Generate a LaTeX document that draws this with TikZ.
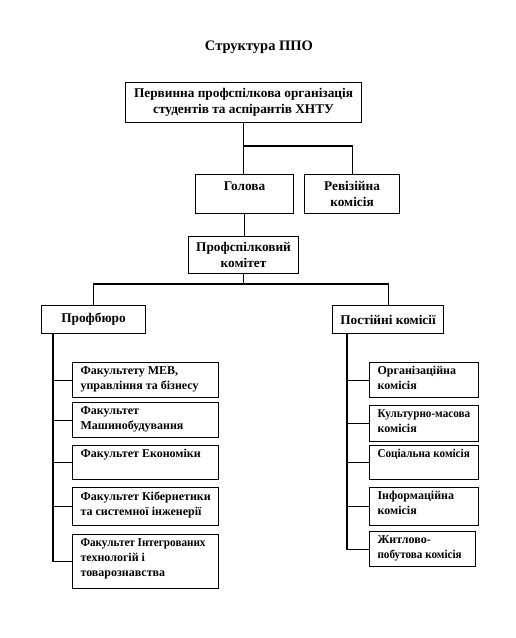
\documentclass[tikz,border=0pt]{standalone}
\usepackage{fontspec}
\setmainfont{Liberation Serif}
\newfontfamily\narrowf[FakeStretch=0.93]{Liberation Serif}
\newcommand\bxt[3]{\parbox[t][#1][t]{#2}{\raggedright #3}}
\newcommand\bxc[3]{\parbox[t][#1][t]{#2}{\centering #3}}
\hbadness=10000 \hfuzz=50pt
\begin{document}
\begin{tikzpicture}[x=1pt,y=-1pt,
  bx/.style={draw, line width=1.1pt, anchor=north west, inner sep=0pt,
    font=\bfseries\fontsize{13.3}{15.5}\selectfont},
  tb/.style={draw, line width=1.1pt, anchor=north west, inner xsep=8pt, inner ysep=4pt,
    font=\bfseries\fontsize{12}{15}\selectfont},
  ln/.style={line width=1.1pt}]
\useasboundingbox (0,0) rectangle (515,638);
\node[font=\bfseries\fontsize{14.5}{16}\selectfont] (title) at (259,47) {Структура ППО};
% top levels
\node[bx, minimum width=236pt, minimum height=40pt, align=center] (T) at (125,82)
  {Первинна профспілкова організація\\студентів та аспірантів ХНТУ};
\node[bx, inner xsep=0pt, inner ysep=7pt] (G) at (195,174) {\bxc{25pt}{98pt}{Голова}};
\node[bx, minimum width=95pt, minimum height=39pt, align=center] (R) at (304,174)
  {Ревізійна\\комісія};
\node[bx, minimum width=110pt, minimum height=37pt, align=center] (P) at (188,236)
  {Профспілковий\\комітет};
\node[bx, minimum width=104pt, minimum height=28pt, align=center] (B) at (41,305) {Профбюро};
\node[bx, minimum width=111pt, minimum height=28pt, align=center] (K) at (332,305) {Постійні комісії};
% faculties
\node[tb] (F1) at (72,362) {\bxt{27pt}{130pt}{\mbox{Факультету МЕВ,}\\\mbox{управління та бізнесу}}};
\node[tb] (F2) at (72,402) {\bxt{27pt}{130pt}{\mbox{Факультет}\\\mbox{Машинобудування}}};
\node[tb] (F3) at (72,445) {\bxt{26pt}{130pt}{\mbox{Факультет Економіки}}};
\node[tb] (F4) at (72,487) {\bxt{30pt}{130pt}{\mbox{Факультет Кібернетики}\\\mbox{та системної інженерії}}};
\node[tb] (F5) at (72,534) {\bxt{46pt}{130pt}{\mbox{\narrowf\bfseries Факультет Інтегрованих}\\\mbox{технологій і}\\\mbox{товарознавства}}};
% commissions
\node[tb] (C1) at (369,362) {\bxt{27pt}{93pt}{\mbox{Організаційна}\\\mbox{комісія}}};
\node[tb] (C2) at (369,405) {\bxt{28pt}{93pt}{\mbox{\narrowf\bfseries Культурно-масова}\\\mbox{комісія}}};
\node[tb] (C3) at (369,445) {\bxt{26pt}{93pt}{\mbox{\narrowf\bfseries Соціальна комісія}}};
\node[tb] (C4) at (369,487) {\bxt{30pt}{93pt}{\mbox{Інформаційна}\\\mbox{комісія}}};
\node[tb] (C5) at (369,531) {\bxt{27pt}{90pt}{\mbox{Житлово-}\\\mbox{\narrowf\bfseries побутова комісія}}};
% connectors
\coordinate (j1) at (T.south |- 0,146);
\draw[ln] (T.south) -- (T.south |- G.north);
\draw[ln] (j1) -| (R.north);
\draw[ln] (G.south) -- (G.south |- P.north);
\coordinate (j2) at (P.south |- 0,284);
\draw[ln] (P.south) -- (j2);
\draw[ln] (B.north) |- (j2) -| (K.north);
\coordinate (ls) at (B.south -| 53,0);
\coordinate (rs) at (K.south -| 347,0);
\foreach \n in {F1,F2,F3,F4,F5} \draw[ln] (ls) |- (\n.west);
\foreach \n in {C1,C2,C3,C4,C5} \draw[ln] (rs) |- (\n.west);
\end{tikzpicture}
\end{document}
